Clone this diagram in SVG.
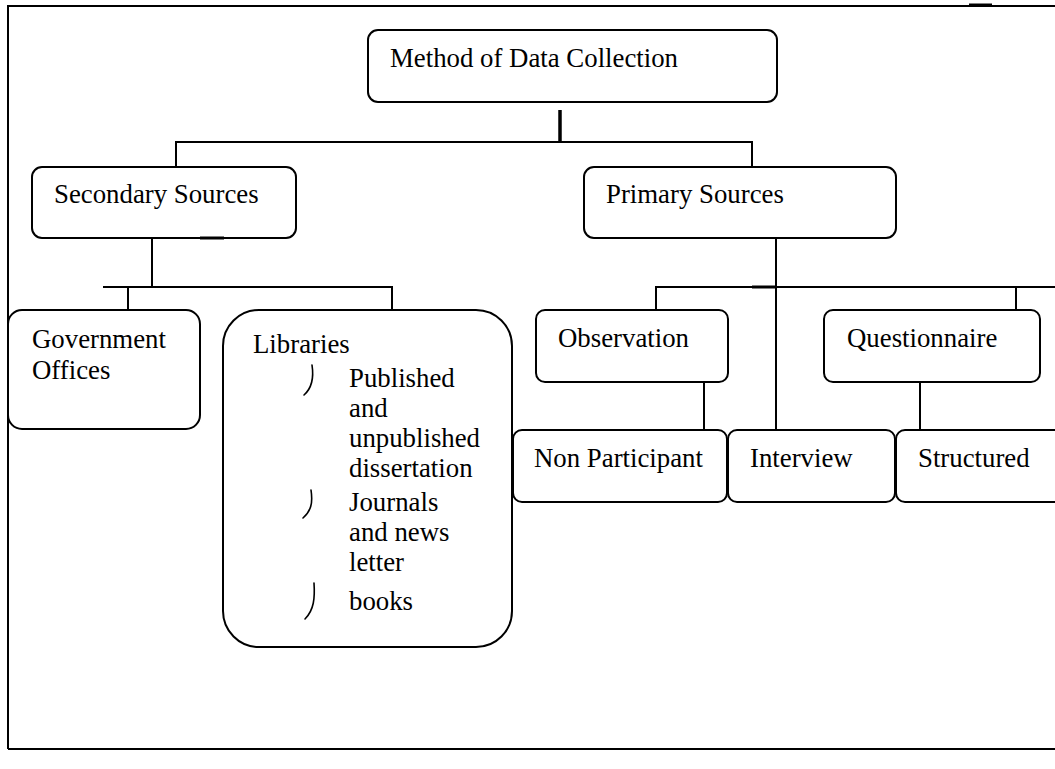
<svg xmlns="http://www.w3.org/2000/svg" width="1055" height="769" viewBox="0 0 1055 769">
<style>
.box{fill:#fff;stroke:#000;stroke-width:2}
.ln{fill:none;stroke:#000;stroke-width:2}
.t{font-family:"Liberation Serif","Times New Roman",serif;font-size:26.8px;fill:#000}
.b{fill:none;stroke:#000;stroke-width:1.6;stroke-linecap:round}
</style>
<rect width="1055" height="769" fill="#fff"/>
<g id="frame">
<path class="ln" d="M8,749 V6 H1060 M8,749 H1060"/>
<path d="M969,5 H992" stroke="#000" stroke-width="3"/>
</g>
<g id="connectors">
<path d="M560,110 V142" stroke="#000" stroke-width="3.5"/>
<path class="ln" d="M176,167 V142 H752 V167"/>
<path class="ln" d="M152,238 V287 M103,287 H392 V310 M128,287 V310"/>
<path class="ln" d="M776,238 V430 M656,310 V287 H1060 M1016,287 V310"/>
<path class="ln" d="M704,382 V430 M920,382 V430"/>
<path d="M752,287 H776" stroke="#000" stroke-width="3"/>
</g>
<g id="n-method"><rect class="box" x="368" y="30" width="409" height="72" rx="10"/><text class="t" x="390" y="67">Method of Data Collection</text></g>
<g id="n-secondary"><rect class="box" x="32" y="167" width="264" height="71" rx="10"/><path d="M200,238 H224" stroke="#000" stroke-width="3"/><text class="t" x="54" y="203">Secondary Sources</text></g>
<g id="n-primary"><rect class="box" x="584" y="167" width="312" height="71" rx="10"/><text class="t" x="606" y="203">Primary Sources</text></g>
<g id="n-government"><rect class="box" x="8" y="310" width="192" height="119" rx="14"/><text class="t" x="32" y="348">Government</text><text class="t" x="32" y="379">Offices</text></g>
<g id="n-libraries"><rect class="box" x="223" y="310" width="289" height="337" rx="36"/>
<text class="t" x="253" y="353">Libraries</text>
<path class="b" d="M312,365 C314,378 312,388 304,395"/>
<path class="b" d="M311,490 C313,503 311,511 303,518"/>
<path class="b" d="M314,583 C315,598 314,610 305,619"/>
<text class="t" x="349" y="387">Published</text>
<text class="t" x="349" y="417">and</text>
<text class="t" x="349" y="447">unpublished</text>
<text class="t" x="349" y="477">dissertation</text>
<text class="t" x="349" y="511">Journals</text>
<text class="t" x="349" y="541">and news</text>
<text class="t" x="349" y="571">letter</text>
<text class="t" x="349" y="610">books</text>
</g>
<g id="n-observation"><rect class="box" x="536" y="310" width="192" height="72" rx="9"/><text class="t" x="558" y="347">Observation</text></g>
<g id="n-questionnaire"><rect class="box" x="824" y="310" width="216" height="72" rx="9"/><text class="t" x="847" y="347">Questionnaire</text></g>
<g id="n-nonparticipant"><rect class="box" x="513" y="430" width="214" height="72" rx="9"/><text class="t" x="534" y="467">Non Participant</text></g>
<g id="n-interview"><rect class="box" x="728" y="430" width="167" height="72" rx="9"/><text class="t" x="750" y="467">Interview</text></g>
<g id="n-structured"><rect class="box" x="896" y="430" width="175" height="72" rx="9"/><text class="t" x="918" y="467">Structured</text></g>
</svg>
